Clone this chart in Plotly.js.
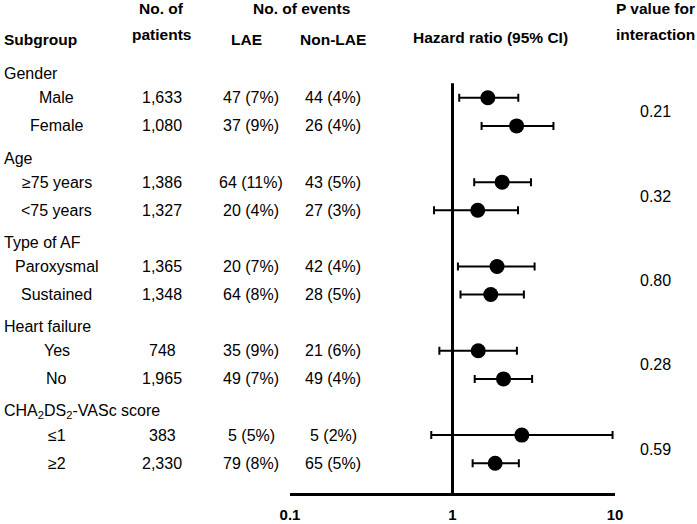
<!DOCTYPE html>
<html>
<head>
<meta charset="utf-8">
<script src="https://cdn.plot.ly/plotly-3.0.1.min.js"></script>
<style>
  body { margin: 0; background: #fff; }
  #plot { width: 697px; height: 524px; }
</style>
</head>
<body>
<div id="plot"></div>
<script>
const groups = ["Gender", "Age", "Type of AF", "Heart failure", "CHA<sub>2</sub>DS<sub>2</sub>-VASc score"];
const labels = ["Male", "Female", "≥75 years", "<75 years", "Paroxysmal", "Sustained", "Yes", "No", "≤1", "≥2"];
const patients = ["1,633", "1,080", "1,386", "1,327", "1,365", "1,348", "748", "1,965", "383", "2,330"];
const laeEvents = ["47 (7%)", "37 (9%)", "64 (11%)", "20 (4%)", "20 (7%)", "64 (8%)", "35 (9%)", "49 (7%)", "5 (5%)", "79 (8%)"];
const nonLaeEvents = ["44 (4%)", "26 (4%)", "43 (5%)", "27 (3%)", "42 (4%)", "28 (5%)", "21 (6%)", "49 (4%)", "5 (2%)", "65 (5%)"];
const hr = [1.65, 2.48, 2.02, 1.43, 1.88, 1.72, 1.44, 2.06, 2.67, 1.83];
const ciLow = [1.10, 1.51, 1.36, 0.77, 1.08, 1.12, 0.83, 1.37, 0.74, 1.33];
const ciHigh = [2.54, 4.18, 3.04, 2.53, 3.20, 2.75, 2.49, 3.09, 9.66, 2.56];
const pInteraction = ["0.21", "0.32", "0.80", "0.28", "0.59"];
const xTicks = [0.1, 1, 10];
const xTickText = ["0.1", "1", "10"];

const W = 697, H = 524;
const FONT = "Liberation Sans, Arial, Helvetica, sans-serif";
const px = (x) => x / W;
const py = (y) => 1 - y / H;

// row index for each subgroup line: header, item, item per group
const rowOf = (k) => 3 * Math.floor(k / 2) + 1 + (k % 2);
const rows = labels.map((_, k) => rowOf(k));

const trace = {
  x: hr,
  y: rows,
  mode: "markers",
  type: "scatter",
  marker: { color: "#000", size: 15, symbol: "circle" },
  error_x: {
    type: "data",
    symmetric: false,
    array: hr.map((v, i) => ciHigh[i] - v),
    arrayminus: hr.map((v, i) => v - ciLow[i]),
    color: "#000",
    thickness: 2,
    width: 4,
  },
  hoverinfo: "skip",
};

const ann = [];
const txt = (text, x, y, opts = {}) => {
  ann.push(Object.assign({
    text: text, x: px(x), xref: "paper", y: y, yref: "y",
    xanchor: "center", yanchor: "middle", showarrow: false,
    font: { family: FONT, size: 16, color: "#000" },
  }, opts));
};
const head = (text, x, y, anchor) => {
  txt(text, x, py(y), { yref: "paper", xanchor: anchor || "center",
    font: { family: FONT, size: 15.5, color: "#000", weight: "bold" } });
};

// column headers
head("Subgroup", 2, 39, "left");
head("No. of", 161, 8);
head("patients", 161, 34);
head("No. of events", 301, 8);
head("LAE", 246, 39);
head("Non-LAE", 333, 39);
head("Hazard ratio (95% CI)", 490, 38);
head("P value for", 655, 8);
head("interaction", 655, 34);

groups.forEach((g, i) => {
  txt(g, 2, 3 * i + 0.15, { xanchor: "left" });
  txt(pInteraction[i], 655, 3 * i + 1.5);
});
labels.forEach((l, k) => {
  txt(l, 57, rows[k]);
  txt(patients[k], 162, rows[k]);
  txt(laeEvents[k], 251, rows[k]);
  txt(nonLaeEvents[k], 333, rows[k]);
});

const layout = {
  width: W,
  height: H,
  margin: { l: 0, r: 0, t: 0, b: 0 },
  paper_bgcolor: "#fff",
  plot_bgcolor: "#fff",
  showlegend: false,
  xaxis: {
    type: "log",
    domain: [px(290), px(615)],
    range: [-1, 1],
    showgrid: false,
    zeroline: false,
    showline: true,
    linecolor: "#000",
    linewidth: 3,
    ticks: "inside",
    ticklen: 5,
    tickwidth: 3,
    tickcolor: "#000",
    tickvals: xTicks,
    ticktext: xTickText,
    ticklabelstandoff: 6,
    tickfont: { family: FONT, size: 15, color: "#000", weight: "bold" },
  },
  yaxis: {
    visible: false,
    domain: [1 - 493 / H, 1],
    range: [15.06, -2.48],
    showgrid: false,
    zeroline: false,
  },
  shapes: [{
    type: "line", xref: "x", yref: "y",
    x0: 1, x1: 1, y0: 0.48, y1: 15.06,
    line: { color: "#000", width: 3 },
  }],
  annotations: ann,
};

Plotly.newPlot("plot", [trace], layout, { displayModeBar: false, staticPlot: true });
</script>
</body>
</html>
